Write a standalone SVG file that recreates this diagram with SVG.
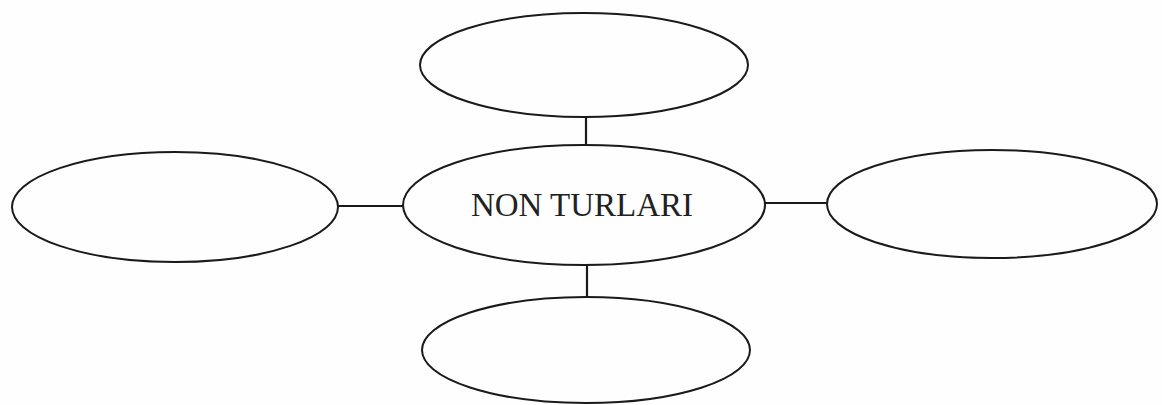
<svg xmlns="http://www.w3.org/2000/svg" width="1162" height="405" viewBox="0 0 1162 405">
<style>
.n{fill:none;stroke:#1a1a1a;stroke-width:2}
.c{stroke:#1a1a1a;stroke-width:2.2;fill:none}
.t{font-family:"Liberation Serif","Times New Roman",serif;font-size:33px;fill:#222;text-anchor:middle}
</style>
<rect width="1162" height="405" fill="#fefefe"/>
<g id="connectors">
<line class="c" x1="586" y1="117" x2="586" y2="146"/>
<line class="c" x1="338" y1="206" x2="404" y2="206"/>
<line class="c" x1="765" y1="203" x2="828" y2="203"/>
<line class="c" x1="587" y1="264" x2="587" y2="297"/>
</g>
<g id="top"><ellipse class="n" cx="584" cy="65" rx="164" ry="52"/></g>
<g id="left"><ellipse class="n" cx="175" cy="207" rx="163" ry="55"/></g>
<g id="center"><ellipse class="n" cx="584" cy="205" rx="181" ry="60"/><text class="t" x="582" y="216">NON TURLARI</text></g>
<g id="right"><ellipse class="n" cx="992" cy="204" rx="165" ry="54"/></g>
<g id="bottom"><ellipse class="n" cx="586" cy="350" rx="164" ry="53"/></g>
</svg>
